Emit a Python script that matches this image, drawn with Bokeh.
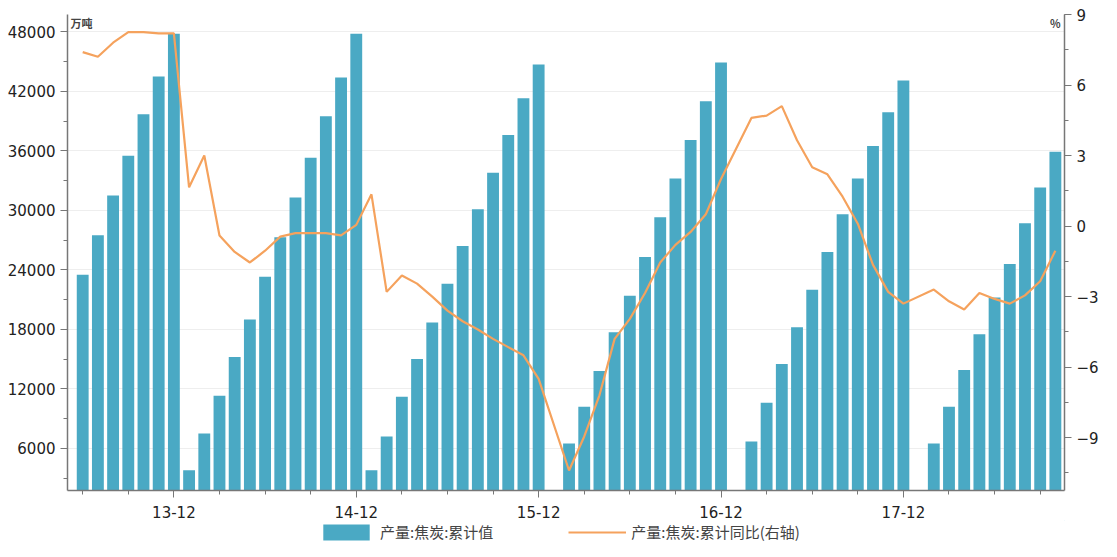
import numpy as np
from bokeh.embed import file_html
from bokeh.layouts import column
from bokeh.models import (ColumnDataSource, LinearAxis, Range1d, FixedTicker,
                          Legend, LegendItem, Label)
from bokeh.plotting import figure
from bokeh.resources import INLINE

# months from 2013-06 to 2018-10
years = [2013] * 7 + [2014] * 12 + [2015] * 12 + [2016] * 12 + [2017] * 12 + [2018] * 10
months = list(range(6, 13)) + list(range(1, 13)) * 4 + list(range(1, 11))

cum_value = [23500, 27500, 31500, 35500, 39700, 43500, 47800,
             3800, 7500, 11300, 15200, 19000, 23300, 27300, 31300, 35300, 39500, 43400, 47800,
             3800, 7200, 11200, 15000, 18700, 22600, 26400, 30100, 33800, 37600, 41300, 44700,
             None, 6500, 10200, 13800, 17700, 21400, 25300, 29300, 33200, 37100, 41000, 44900,
             None, 6700, 10600, 14500, 18200, 22000, 25800, 29600, 33200, 36500, 39900, 43100,
             None, 6500, 10200, 13900, 17500, 21200, 24600, 28700, 32300, 35900]

cum_yoy = [7.4, 7.2, 7.8, 8.25, 8.25, 8.2, 8.2,
           1.65, 3.0, -0.4, -1.1, -1.55, -1.05, -0.45, -0.3, -0.3, -0.3, -0.4, 0.05,
           1.35, -2.8, -2.1, -2.45, -3.0, -3.6, -4.05, -4.4, -4.8, -5.15, -5.5, -6.5,
           None, -10.4, -8.95, -7.2, -4.8, -3.95, -2.85, -1.55, -0.8, -0.25, 0.5, 2.0,
           None, 4.6, 4.7, 5.1, 3.65, 2.5, 2.2, 1.25, 0.1, -1.65, -2.8, -3.3,
           None, -2.7, -3.2, -3.55, -2.85, -3.1, -3.3, -2.95, -2.35, -1.05]

idx = list(range(len(months)))
bar_src = ColumnDataSource(data=dict(
    x=[i for i, v in zip(idx, cum_value) if v is not None],
    y=[v for v in cum_value if v is not None]))
line_src = ColumnDataSource(data=dict(
    x=[i for i, v in zip(idx, cum_yoy) if v is not None],
    y=[v for v in cum_yoy if v is not None]))

FONT = "Noto Sans CJK SC"
BAR_COLOR = "#4aa9c4"
LINE_COLOR = "#f5a25d"

p = figure(width=1101, height=520, output_backend="svg", toolbar_location=None,
           x_range=Range1d(-1, 64.6), y_range=Range1d(1750, 49750),
           min_border_left=67, min_border_right=5, min_border_top=14, min_border_bottom=0)
p.outline_line_color = None
p.extra_y_ranges = {"yoy": Range1d(-11.25, 9)}

p.vbar(x="x", top="y", bottom=1750, width=0.78, source=bar_src,
       color=BAR_COLOR, line_color=None)
p.line(x="x", y="y", source=line_src, y_range_name="yoy",
       color=LINE_COLOR, line_width=2.2)

# x axis: ticks every 3 months, labels at December
dec_ticks = [i for i, m in enumerate(months) if m == 12]
p.xaxis.ticker = FixedTicker(ticks=dec_ticks,
                             minor_ticks=[i for i, m in enumerate(months) if m % 3 == 0])
p.xaxis.major_label_overrides = {i: f"{years[i] % 100}-12" for i in dec_ticks}
p.xgrid.visible = False

p.yaxis.ticker = FixedTicker(ticks=list(range(6000, 48001, 6000)),
                             minor_ticks=list(range(3000, 49001, 3000)))
p.ygrid.grid_line_color = "#eeeeee"

right = LinearAxis(y_range_name="yoy",
                   ticker=FixedTicker(ticks=[-9, -6, -3, 0, 3, 6, 9],
                                      minor_ticks=list(np.arange(-10.5, 9.1, 1.5))))
p.add_layout(right, "right")

for ax in p.xaxis + p.yaxis + [right]:
    ax.axis_line_color = "#777777"
    ax.axis_line_width = 1.5
    ax.major_tick_line_color = "#777777"
    ax.minor_tick_line_color = "#777777"
    ax.major_tick_out = 7
    ax.minor_tick_out = 4
    ax.major_tick_in = 0
    ax.minor_tick_in = 0
    ax.major_label_text_font = "DejaVu Sans"
    ax.major_label_text_font_size = "15px"
    ax.major_label_text_color = "#222222"
p.xaxis.major_label_standoff = 8

p.add_layout(Label(x=-1, y=49750, x_offset=3, text="万吨",
                   text_font=FONT, text_font_size="11px", text_font_style="bold",
                   text_baseline="top"))
p.add_layout(Label(x=64.6, y=49750, x_offset=-4, text="%", text_align="right",
                   text_font=FONT, text_font_size="11px", text_font_style="bold",
                   text_baseline="top"))

# legend lives in its own strip below the chart; its renderers sit off-range
leg = figure(width=1101, height=22, output_backend="svg", toolbar_location=None,
             x_range=Range1d(0, 1), y_range=Range1d(0, 1),
             min_border=0)
leg.axis.visible = False
leg.grid.visible = False
leg.outline_line_color = None
lb = leg.vbar(x=[5], top=[5], bottom=[4], width=1, color=BAR_COLOR, line_color=None)
ll = leg.line(x=[5, 6], y=[5, 5], color=LINE_COLOR, line_width=2.2)
legend = Legend(items=[LegendItem(label="产量:焦炭:累计值", renderers=[lb]),
                       LegendItem(label="产量:焦炭:累计同比(右轴)", renderers=[ll])],
                orientation="horizontal", location=(250, 0),
                label_text_font=FONT, label_text_font_size="15px",
                glyph_width=58, glyph_height=20, spacing=75,
                border_line_color=None, background_fill_alpha=0, margin=0, padding=1)
leg.add_layout(legend, "center")

open("out.html", "w").write(file_html(column(p, leg, spacing=0), INLINE))
